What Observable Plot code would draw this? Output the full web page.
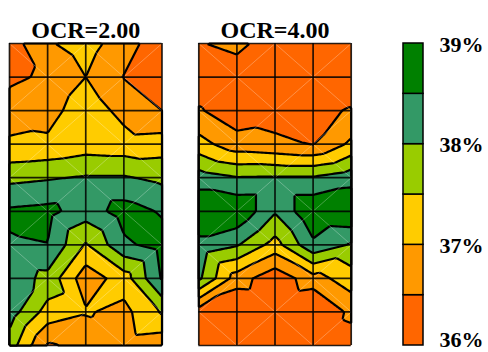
<!DOCTYPE html>
<html><head><meta charset="utf-8">
<script src="https://cdn.jsdelivr.net/npm/d3@7"></script>
<script src="https://cdn.jsdelivr.net/npm/@observablehq/plot@0.6"></script>
<style>
html,body{margin:0;padding:0;background:#fff;}
#chart{position:relative;width:488px;height:352px;overflow:hidden;background:#fff;}
#chart > svg{position:absolute;top:0;}
</style></head><body><div id="chart"></div>
<script>
// Panel titles
const titles = ["OCR=2.00", "OCR=4.00"];
// Grid node values (rows top -> bottom, 5 columns each), in %
const ocr2Rows = [
  [36.25, 36.95, 37.2, 36.75, 36.15],
  [36.35, 36.62, 37.0, 36.48, 36.2],
  [36.85, 36.8, 37.3, 36.84, 36.5],
  [37.05, 37.1, 37.25, 37.2, 37.25],
  [37.87, 37.95, 38.05, 38.05, 37.88],
  [38.58, 38.65, 38.24, 38.72, 38.45],
  [38.45, 38.49, 37.45, 38.4, 38.7],
  [38.3, 37.85, 36.7, 37.25, 38.55],
  [38.25, 37.3, 37.05, 36.85, 37.55],
  [37.76, 36.45, 36.6, 36.75, 36.65]
];
const ocr4Rows = [
  [36.45, 36.73, 36.05, 36.1, 36.1],
  [36.2, 36.03, 36.0, 36.0, 36.1],
  [36.55, 36.2, 36.3, 36.34, 36.55],
  [37.19, 36.7, 36.6, 36.48, 37.1],
  [38.25, 38.03, 38.05, 38.05, 38.3],
  [38.95, 38.95, 38.05, 38.93, 39.0],
  [38.35, 38.05, 37.3, 38.4, 37.95],
  [38.1, 36.75, 36.15, 36.8, 37.25],
  [36.25, 35.94, 36.0, 35.83, 36.65],
  [36.1, 36.0, 36.0, 36.0, 36.2]
];
// Contour levels and band colours
const thresholds = [36.5, 37, 37.5, 38, 38.5];
const bandLows = [36, 36.5, 37, 37.5, 38, 38.5];
const bandHighs = [36.5, 37, 37.5, 38, 38.5, 39];
const bandColors = ["#FF6600", "#FF9900", "#FFCC00", "#99CC00", "#339966", "#008000"];
// Legend tick labels
const legendTicks = [36, 37, 38, 39];

const FONT = "'Liberation Serif','Times New Roman',Times,serif";
const nCols = ocr2Rows[0].length, nRows = ocr2Rows.length;

// Linear interpolation on a triangulated grid (alternating diagonals)
function interpolator(rows) {
  return (x, y) => {
    const i = Math.max(0, Math.min(nCols - 2, Math.floor(x)));
    const j = Math.max(0, Math.min(nRows - 2, Math.floor(y)));
    const u = x - i, w = y - j;
    const v00 = rows[j][i], v10 = rows[j][i + 1], v01 = rows[j + 1][i], v11 = rows[j + 1][i + 1];
    if ((i + j) % 2 === 1) {
      if (u + w <= 1) return v00 + u * (v10 - v00) + w * (v01 - v00);
      return v11 + (1 - u) * (v01 - v11) + (1 - w) * (v10 - v11);
    } else {
      if (u >= w) return v00 + u * (v10 - v00) + w * (v11 - v10);
      return v00 + w * (v01 - v00) + u * (v11 - v01);
    }
  };
}

const diagonals = d3.cross(d3.range(nCols - 1), d3.range(nRows - 1)).map(([i, j]) =>
  (i + j) % 2 === 1 ? {x1: i, y1: j + 1, x2: i + 1, y2: j} : {x1: i, y1: j, x2: i + 1, y2: j + 1});

const chart = document.getElementById("chart");

function panel(rows, title, left, width, mL, mR) {
  const svg = Plot.plot({
    width, height: 352, marginLeft: mL, marginRight: mR, marginTop: 43, marginBottom: 7,
    x: {domain: [0, nCols - 1], axis: null},
    y: {domain: [0, nRows - 1], reverse: true, axis: null},
    color: {type: "ordinal", domain: thresholds, range: bandColors.slice(1)},
    marks: [
      Plot.frame({fill: bandColors[0], stroke: "none"}),
      Plot.contour({
        fill: interpolator(rows),
        x1: 0, y1: 0, x2: nCols - 1, y2: nRows - 1,
        thresholds,
        stroke: "black", strokeWidth: 2.2, strokeLinejoin: "round"
      }),
      Plot.link(diagonals, {x1: "x1", y1: "y1", x2: "x2", y2: "y2", stroke: "white", strokeOpacity: 0.35, strokeWidth: 0.8}),
      Plot.ruleX(d3.range(nCols), {stroke: "black", strokeWidth: 1.7, strokeOpacity: 0.85}),
      Plot.ruleY(d3.range(nRows), {stroke: "black", strokeWidth: 1.7, strokeOpacity: 0.85}),
      Plot.text([title], {frameAnchor: "top", dy: -23, fontSize: 24, fontWeight: "bold", fontFamily: FONT, fill: "black"})
    ]
  });
  svg.style.left = left + "px";
  chart.appendChild(svg);
}

panel(ocr2Rows, titles[0], 0, 180, 9, 18.5);
panel(ocr4Rows, titles[1], 180, 190, 18.3, 19.3);

const bands = bandLows.map((lo, k) => ({lo, hi: bandHighs[k]}));
const labelStyle = {x: 1, y: d => d, dx: 16, textAnchor: "start", text: d => d + "%", fontSize: 22, fontWeight: "bold", fontFamily: FONT, fill: "black"};
const legend = Plot.plot({
  width: 118, height: 352, marginLeft: 33, marginRight: 65, marginTop: 43, marginBottom: 7,
  x: {domain: [0, 1], axis: null},
  y: {domain: [legendTicks[0], legendTicks[legendTicks.length - 1]], axis: null},
  color: {type: "ordinal", domain: bandLows, range: bandColors},
  marks: [
    Plot.rect(bands, {x1: 0, x2: 1, y1: "lo", y2: "hi", fill: "lo", stroke: "black", strokeWidth: 1.5}),
    Plot.text(legendTicks.slice(1), {...labelStyle, dy: 1}),
    Plot.text(legendTicks.slice(0, 1), {...labelStyle, dy: -6})
  ]
});
legend.style.left = "370px";
chart.appendChild(legend);
</script>
</body></html>
